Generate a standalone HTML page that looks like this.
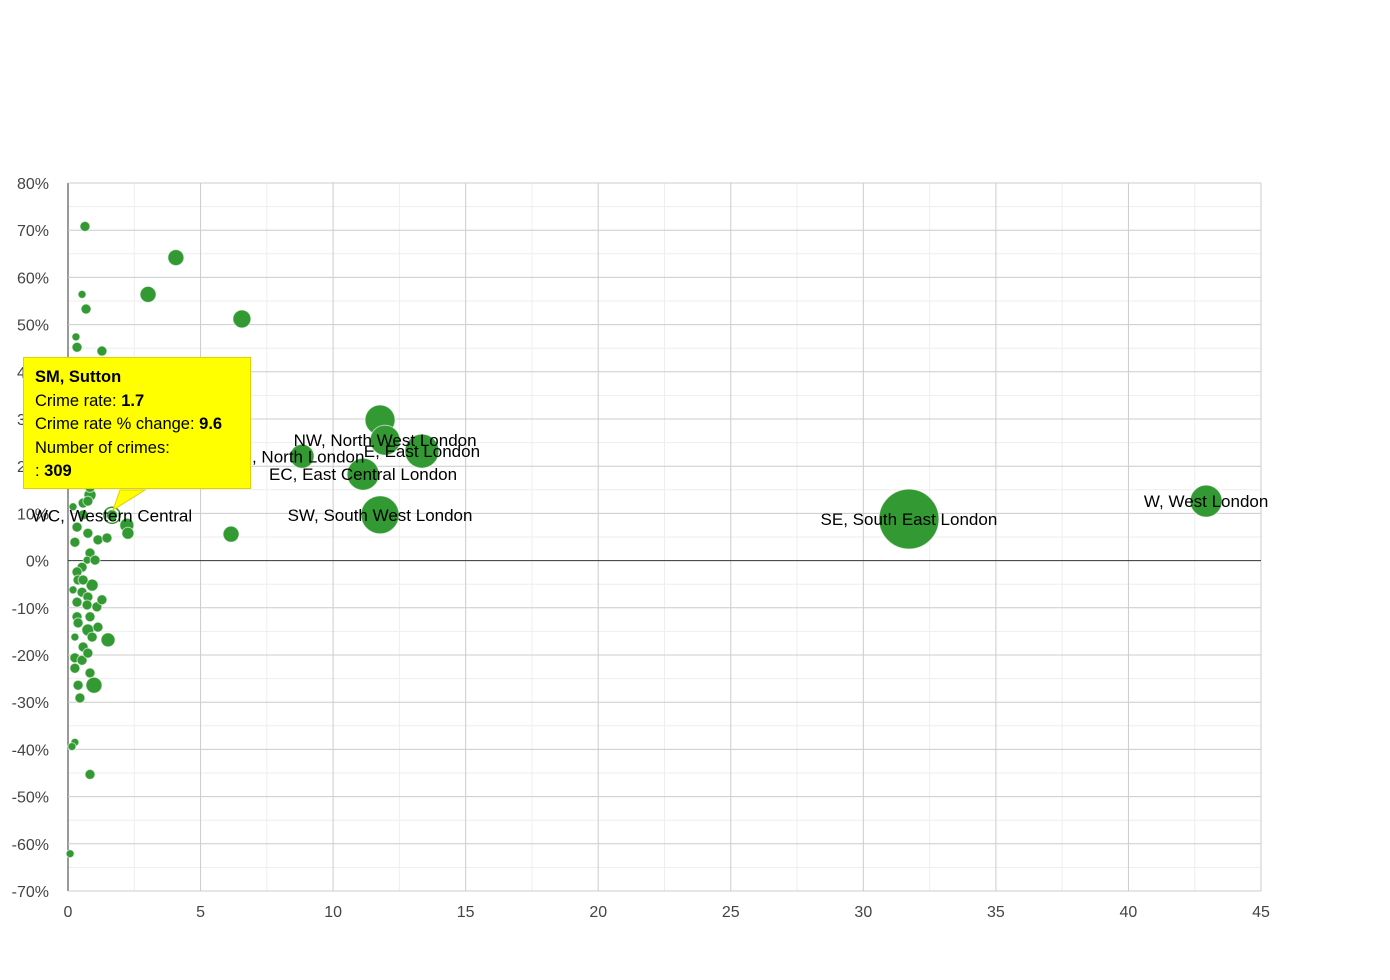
<!DOCTYPE html>
<html><head><meta charset="utf-8"><style>
body{margin:0;background:#fff;font-family:"Liberation Sans",Arial,sans-serif}
svg text{font-family:"Liberation Sans",Arial,sans-serif}
#tip{position:absolute;left:23px;top:357px;width:215px;height:122px;background:#ffff00;border:1px solid #e0d000;padding:8px 0 0 11px;font-size:16.5px;line-height:23.5px;color:#000;box-sizing:content-box}
</style></head><body>
<svg id="chart" width="1390" height="980" xmlns="http://www.w3.org/2000/svg" style="position:absolute;left:0;top:0">
<g id="grid"></g><g id="axes"></g><g id="bubbles"></g><g id="labels"></g>
<polygon points="120,490 145,490 113,510" fill="#ffff00" stroke="#e0d000"/>
</svg>
<div id="tip">
<b>SM, Sutton</b><br>Crime rate: <b>1.7</b><br>Crime rate % change: <b>9.6</b><br>Number of crimes:<br>: <b>309</b>
</div>
<script>
const xTicks=[0,5,10,15,20,25,30,35,40,45];
const yTicks=[80,70,60,50,40,30,20,10,0,-10,-20,-30,-40,-50,-60,-70];
const rates=[0.64,4.07,3.02,6.56,0.53,0.68,0.30,0.34,1.28,2.90,6.15,
0.83,0.57,0.19,0.75,0.57,0.34,0.75,0.26,1.13,1.47,2.22,2.26,0.83,0.72,1.02,0.53,0.34,0.38,0.91,0.57,0.19,0.53,0.75,0.34,0.72,1.09,1.28,0.34,0.38,0.83,0.75,1.13,1.51,0.91,0.26,0.57,0.26,0.53,0.75,0.26,0.83,0.38,0.98,0.45,0.26,0.15,0.83,0.08,0.75,0.83,
11.77,11.96,8.83,11.13,11.77,13.35,31.72,42.93,1.66];
const changes=[70.8,64.2,56.4,51.2,56.4,53.3,47.4,45.2,44.4,42.0,5.6,
13.9,12.2,11.4,12.6,9.7,7.1,5.8,3.9,4.4,4.8,7.5,5.8,1.6,0.1,0.1,-1.4,-2.4,-4.1,-5.2,-4.1,-6.2,-6.7,-7.7,-8.8,-9.4,-9.8,-8.3,-11.9,-13.2,-11.9,-14.7,-14.1,-16.8,-16.2,-16.2,-18.3,-20.6,-21.1,-19.6,-22.8,-23.8,-26.4,-26.4,-29.1,-38.5,-39.4,-45.3,-62.1,17.5,15.5,
29.8,25.5,22.1,18.3,9.7,23.2,8.8,12.6,9.6];
const crimes=[250,640,640,810,160,250,160,250,250,250,640,
360,250,160,250,250,250,250,250,250,250,490,360,250,160,250,250,250,250,360,250,160,250,250,250,250,250,250,250,250,250,360,250,490,250,160,250,250,250,250,250,250,250,640,250,160,160,250,160,250,250,
2250,2250,1440,2560,3610,2890,9000,2560,309];
const names=["","","","","","","","","","","",
"","","","","","","","","","","","","","","","","","","","","","","","","","","","","","","","","","","","","","","","","","","","","","","","","","","",
"NW, North West London","N, North London","EC, East Central London","SW, South West London","E, East London","SE, South East London","W, West London","WC, Western Central",""];
const X0=68,X1=1261,Y0=183,Y1=891;
const sx=v=>X0+(v-0)/45*(X1-X0);
const sy=v=>Y0+(80-v)/150*(Y1-Y0);
const NS="http://www.w3.org/2000/svg";
function mk(tag,parent,at){const e=document.createElementNS(NS,tag);for(const k in at)e.setAttribute(k,at[k]);document.getElementById(parent).appendChild(e);return e;}
// minor grid
for(let v=2.5;v<45;v+=5){const l=mk('line','grid',{x1:sx(v),x2:sx(v),y1:Y0,y2:Y1,stroke:'#eeeeee'});

}
for(let v=75;v>-70;v-=10){const l=mk('line','grid',{x1:X0,x2:X1,y1:sy(v),y2:sy(v),stroke:'#eeeeee'});

}
xTicks.forEach(v=>{const l=mk('line','grid',{x1:sx(v),x2:sx(v),y1:Y0,y2:Y1,stroke:v===0?'#333':'#cccccc'});


const t=mk('text','axes',{x:sx(v),y:917,'text-anchor':'middle','font-size':16,fill:'#444'});t.textContent=v;

});
yTicks.forEach(v=>{const l=mk('line','grid',{x1:X0,x2:X1,y1:sy(v),y2:sy(v),stroke:v===0?'#333':'#cccccc'});


const t=mk('text','axes',{x:49,y:sy(v)+6,'text-anchor':'end','font-size':16,fill:'#444'});t.textContent=v+'%';

});
rates.forEach((r,i)=>{const rad=Math.sqrt(crimes[i])*0.316;
const c=mk('circle','bubbles',{cx:sx(r),cy:sy(changes[i]),r:rad,fill:'#339933',stroke:'#ffffff','stroke-opacity':0.6,'stroke-width':1});


if(i===rates.length-1){const h=mk('circle','bubbles',{cx:sx(r),cy:sy(changes[i]),r:rad+2.5,fill:'none',stroke:'#339933','stroke-width':1.5});

}
if(names[i]){const t=mk('text','labels',{x:sx(r),y:sy(changes[i])+6,'text-anchor':'middle','font-size':17,fill:'#000'});t.textContent=names[i];

}});
</script>
</body></html>
